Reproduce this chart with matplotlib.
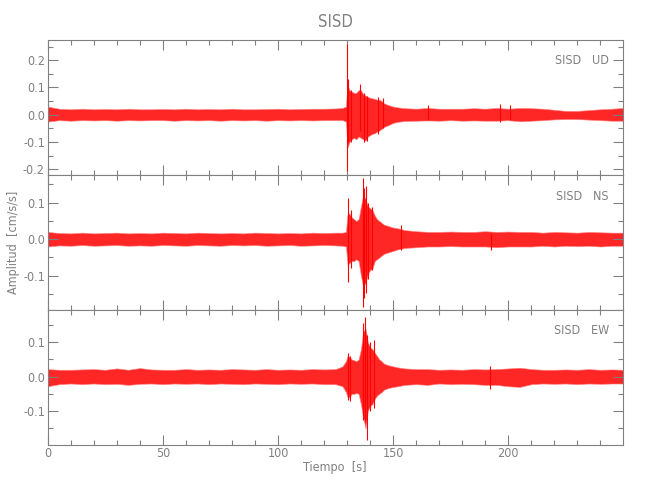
import matplotlib
matplotlib.use("Agg")
import matplotlib.pyplot as plt
from matplotlib.ticker import MultipleLocator, FormatStrFormatter

# ---------------- data ----------------
title = "SISD"
components = ["UD", "NS", "EW"]
station = "SISD"
xlabel = "Tiempo  [s]"
ylabel = "Amplitud  [cm/s/s]"

# envelope sample times (s)
t_env = [0, 5, 10, 15, 20, 25, 30, 35, 40, 45, 50, 55, 60, 65, 70, 75, 80, 85, 90, 95,
         100, 105, 110, 115, 120,
         125, 128, 129.5, 130.2, 131, 132, 133, 134, 135, 136, 137, 138, 139, 140, 141,
         142, 143, 144, 145, 146, 148, 150, 152, 155,
         160, 165, 170, 175, 180, 185, 190, 195, 200, 205, 210, 215, 220, 225, 230, 235,
         240, 245, 249.8]

# UD envelope
ud_hi = [0.03, 0.022, 0.02, 0.022, 0.02, 0.021, 0.02, 0.022, 0.02, 0.02, 0.021, 0.02, 0.022,
         0.02, 0.021, 0.02, 0.022, 0.02, 0.02, 0.021, 0.022, 0.02, 0.021, 0.022, 0.022,
         0.023, 0.025, 0.03, 0.11, 0.09, 0.085, 0.08, 0.08, 0.09, 0.09, 0.075, 0.07, 0.065,
         0.062, 0.06, 0.058, 0.055, 0.055, 0.05, 0.042, 0.035, 0.03, 0.027, 0.024,
         0.022, 0.025, 0.022, 0.022, 0.022, 0.024, 0.022, 0.025, 0.022, 0.025, 0.024, 0.022,
         0.018, 0.014, 0.014, 0.017, 0.02, 0.022, 0.025]
ud_lo = [-0.025, -0.02, -0.022, -0.02, -0.021, -0.02, -0.022, -0.02, -0.021, -0.02, -0.02,
         -0.022, -0.02, -0.021, -0.02, -0.022, -0.02, -0.021, -0.02, -0.022, -0.02, -0.021,
         -0.02, -0.021, -0.02,
         -0.02, -0.02, -0.025, -0.12, -0.1, -0.09, -0.085, -0.09, -0.08, -0.085, -0.09,
         -0.095, -0.08, -0.075, -0.07, -0.068, -0.062, -0.058, -0.052, -0.045, -0.038,
         -0.03, -0.026, -0.023,
         -0.022, -0.021, -0.022, -0.02, -0.022, -0.021, -0.022, -0.022, -0.02, -0.024,
         -0.022, -0.02, -0.017, -0.016, -0.016, -0.018, -0.02, -0.022, -0.022]

# NS envelope
ns_hi = [0.02, 0.017, 0.016, 0.018, 0.016, 0.017, 0.018, 0.016, 0.017, 0.016, 0.018, 0.017,
         0.016, 0.018, 0.017, 0.016, 0.017, 0.016, 0.018, 0.017, 0.016, 0.017, 0.016, 0.018,
         0.017,
         0.018, 0.018, 0.02, 0.07, 0.07, 0.06, 0.055, 0.05, 0.055, 0.09, 0.12, 0.11, 0.09,
         0.085, 0.08, 0.065, 0.055, 0.05, 0.045, 0.04, 0.036, 0.032, 0.03, 0.025,
         0.022, 0.02, 0.02, 0.021, 0.02, 0.02, 0.022, 0.02, 0.021, 0.02, 0.02, 0.018, 0.02,
         0.019, 0.018, 0.02, 0.019, 0.018, 0.018]
ns_lo = [-0.02, -0.017, -0.018, -0.016, -0.018, -0.017, -0.016, -0.018, -0.017, -0.018,
         -0.016, -0.017, -0.018, -0.016, -0.017, -0.018, -0.016, -0.017, -0.016, -0.018,
         -0.017, -0.016, -0.018, -0.017, -0.016,
         -0.017, -0.018, -0.02, -0.07, -0.065, -0.06, -0.06, -0.055, -0.06, -0.1, -0.13,
         -0.12, -0.095, -0.085, -0.08, -0.06, -0.055, -0.05, -0.045, -0.04, -0.036, -0.032,
         -0.028, -0.024,
         -0.022, -0.02, -0.02, -0.019, -0.02, -0.02, -0.02, -0.022, -0.02, -0.02, -0.02,
         -0.018, -0.02, -0.018, -0.019, -0.018, -0.02, -0.018, -0.018]

# EW envelope
ew_hi = [0.022, 0.02, 0.02, 0.021, 0.022, 0.02, 0.024, 0.02, 0.025, 0.021, 0.02, 0.02, 0.022,
         0.02, 0.021, 0.02, 0.022, 0.021, 0.02, 0.022, 0.02, 0.021, 0.02, 0.022, 0.021,
         0.022, 0.03, 0.045, 0.06, 0.058, 0.05, 0.048, 0.045, 0.05, 0.08, 0.13, 0.14, 0.1,
         0.085, 0.08, 0.07, 0.06, 0.05, 0.045, 0.038, 0.033, 0.03, 0.027, 0.024,
         0.022, 0.022, 0.02, 0.021, 0.02, 0.022, 0.021, 0.022, 0.024, 0.026, 0.022, 0.02,
         0.02, 0.021, 0.02, 0.022, 0.02, 0.021, 0.02]
ew_lo = [-0.028, -0.022, -0.02, -0.022, -0.02, -0.022, -0.021, -0.024, -0.021, -0.02,
         -0.022, -0.02, -0.021, -0.02, -0.022, -0.02, -0.021, -0.022, -0.02, -0.021, -0.022,
         -0.02, -0.021, -0.02, -0.022,
         -0.022, -0.028, -0.045, -0.06, -0.06, -0.05, -0.05, -0.048, -0.05, -0.08, -0.12,
         -0.15, -0.1, -0.085, -0.08, -0.065, -0.055, -0.05, -0.045, -0.038, -0.033, -0.03,
         -0.028, -0.024,
         -0.022, -0.024, -0.02, -0.022, -0.021, -0.022, -0.024, -0.024, -0.028, -0.03,
         -0.022, -0.02, -0.021, -0.02, -0.022, -0.02, -0.021, -0.02, -0.02]

# individual peaks (time, low, high)
ud_pk_t = [0.3, 130.0, 130.6, 131.5, 135.6, 137.4, 138.6, 143.6, 145.4, 165.0, 196.5, 200.6]
ud_pk_hi = [0.042, 0.26, 0.13, 0.09, 0.111, 0.08, 0.07, 0.065, 0.063, 0.035, 0.039, 0.036]
ud_pk_lo = [-0.03, -0.205, -0.1, -0.1, -0.06, -0.1, -0.095, -0.07, -0.05, -0.02, -0.025, -0.02]

ns_pk_t = [130.6, 131.5, 136.8, 137.4, 138.2, 139.0, 141.0, 153.6, 192.6]
ns_pk_hi = [0.112, 0.08, 0.167, 0.14, 0.146, 0.1, 0.089, 0.039, 0.015]
ns_pk_lo = [-0.118, -0.08, -0.185, -0.16, -0.148, -0.11, -0.084, -0.03, -0.029]

ew_pk_t = [130.5, 131.3, 136.8, 137.6, 138.5, 140.0, 141.5, 192.0]
ew_pk_hi = [0.068, 0.06, 0.155, 0.175, 0.12, 0.1, 0.107, 0.03]
ew_pk_lo = [-0.068, -0.07, -0.126, -0.13, -0.185, -0.1, -0.092, -0.035]

# axis limits per panel
x_max = 249.8
ylims = [(-0.221, 0.274), (-0.194, 0.176), (-0.199, 0.194)]

# ---------------- drawing ----------------
plt.rcParams['font.family'] = ['DejaVu Sans']
plt.rcParams['font.stretch'] = 'condensed'
plt.rcParams['font.weight'] = 'light'
gray = '#808080'
red = '#ff0000'

fig = plt.figure(figsize=(6.5, 5.0), dpi=100)
left, width = 47.7 / 650, (623 - 47.7) / 650
tops_px = [40, 175, 310]
panel_h = 135

series = [(ud_hi, ud_lo, ud_pk_t, ud_pk_hi, ud_pk_lo),
          (ns_hi, ns_lo, ns_pk_t, ns_pk_hi, ns_pk_lo),
          (ew_hi, ew_lo, ew_pk_t, ew_pk_hi, ew_pk_lo)]

for i, (comp, (hi, lo, pt, phi, plo), yl, top) in enumerate(
        zip(components, series, ylims, tops_px)):
    bottom = 1 - (top + panel_h) / 500
    ax = fig.add_axes([left, bottom, width, panel_h / 500])
    ax.fill_between(t_env, lo, hi, color=red, alpha=0.85, lw=0.5, edgecolor='#ff8080')
    ax.vlines(pt, plo, phi, color=red, lw=0.8)
    ax.set_xlim(0, x_max)
    ax.set_ylim(*yl)
    for s in ax.spines.values():
        s.set_color(gray)
        s.set_linewidth(0.8)
    ax.xaxis.set_major_locator(MultipleLocator(50))
    ax.xaxis.set_minor_locator(MultipleLocator(10))
    ax.yaxis.set_major_locator(MultipleLocator(0.1))
    ax.yaxis.set_minor_locator(MultipleLocator(0.05))
    ax.yaxis.set_major_formatter(FormatStrFormatter('%.1f'))
    ax.tick_params(which='both', direction='in', top=True, right=True, color=gray,
                   labelcolor=gray, labelsize=9, width=0.8)
    ax.tick_params(which='major', length=7)
    ax.tick_params(which='minor', length=3.6)
    ax.tick_params(axis='y', pad=2)
    if i < 2:
        ax.tick_params(axis='x', labelbottom=False)
    else:
        ax.tick_params(axis='x', pad=1.5)
    ax.text(1 - 14 / 575, 1 - 21 / 135, f"{station}   {comp}", transform=ax.transAxes,
            ha='right', va='center', color=gray, fontsize=9)

fig.text(335 / 650, 1 - 22 / 500, title, ha='center', va='center', color=gray, fontsize=12)
fig.text(335 / 650, 1 - 467 / 500, xlabel, ha='center', va='center', color=gray, fontsize=9)
fig.text(14 / 650, 1 - 242 / 500, ylabel, ha='center', va='center', rotation=90,
         color=gray, fontsize=9)

fig.savefig('out.png', dpi=100)
